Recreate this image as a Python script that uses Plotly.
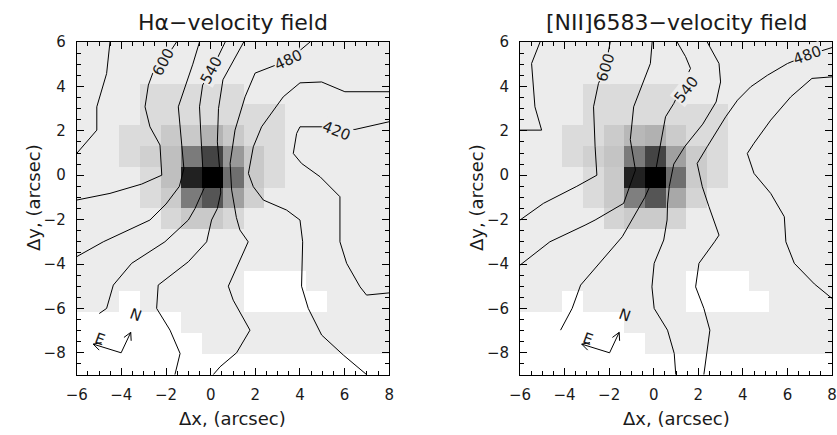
import numpy as np
import plotly.graph_objects as go

# ---- pixel grid of the integral-field frame (arcsec) ----
pix_dx = 0.93
pix_dy = 0.935
x_pix = [round(0.08 + pix_dx * i, 3) for i in range(-7, 10)]   # 17 columns
y_pix = [round(-0.085 + pix_dy * j, 3) for j in range(-9, 8)]  # 17 rows

# relative continuum flux of the bright core, rows from y=+3.7 down to y=-2.0,
# columns from x=-3.6 to x=+2.9 (0 = faint background)
core_ha = [
    [0.00, 0.07, 0.07, 0.07, 0.07, 0.07, 0.00, 0.00],
    [0.00, 0.07, 0.07, 0.07, 0.07, 0.07, 0.07, 0.07],
    [0.07, 0.07, 0.15, 0.15, 0.24, 0.15, 0.07, 0.07],
    [0.07, 0.12, 0.19, 0.48, 0.71, 0.35, 0.15, 0.07],
    [0.00, 0.07, 0.19, 0.86, 1.00, 0.53, 0.15, 0.07],
    [0.00, 0.07, 0.14, 0.48, 0.64, 0.32, 0.12, 0.00],
    [0.00, 0.00, 0.09, 0.15, 0.15, 0.09, 0.00, 0.00],
]
core_nii = [
    [0.00, 0.07, 0.07, 0.07, 0.07, 0.07, 0.00, 0.00],
    [0.00, 0.07, 0.07, 0.07, 0.07, 0.07, 0.07, 0.07],
    [0.07, 0.07, 0.14, 0.22, 0.25, 0.14, 0.07, 0.07],
    [0.07, 0.12, 0.17, 0.48, 0.71, 0.32, 0.14, 0.07],
    [0.00, 0.07, 0.15, 0.86, 1.00, 0.53, 0.14, 0.07],
    [0.00, 0.07, 0.15, 0.46, 0.64, 0.29, 0.10, 0.00],
    [0.00, 0.00, 0.10, 0.14, 0.14, 0.10, 0.00, 0.00],
]
core_row0, core_col0 = 13, 3      # grid indices of the core block's top-left cell

# spaxels without data: (row index, first column, last column)
no_data = [
    (0, 0, 16),
    (1, 0, 6),
    (2, 0, 5),
    (3, 3, 3), (3, 9, 12),
    (4, 9, 11),
]

# ---- isovelocity contours (km/s), traced as x/y in arcsec ----
ha_630_x = [-4.51, -4.66, -5.10, -5.10, -6.00]
ha_630_y = [6.00, 4.58, 3.08, 2.03, 0.98]
ha_600_x = [-1.53, -2.12, -2.57, -2.79, -2.94, -2.72, -2.27, -2.19, -3.09, -4.51, -6.00]
ha_600_y = [6.00, 5.10, 4.66, 4.06, 3.08, 2.18, 1.36, 0.00, -0.40, -0.82, -1.12]
ha_570_x = [-0.50, -0.80, -1.45, -1.30, -1.20, -1.40, -2.00, -2.72, -4.81, -6.00]
ha_570_y = [6.00, 5.00, 3.08, 1.43, 0.30, -0.50, -1.30, -2.02, -3.00, -3.67]
ha_540_x = [0.65, 0.04, -0.36, -0.50, -0.41, -0.33, -0.30, -0.70, -1.00, -2.05, -3.54, -4.36, -4.66, -4.99]
ha_540_y = [6.00, 4.73, 4.06, 3.08, 1.28, 0.23, -0.60, -1.50, -2.02, -3.00, -3.97, -4.95, -6.00, -6.23]
ha_510_x = [1.48, 1.01, 0.55, 0.35, 0.30, 0.40, 0.45, 0.30, 0.04, -0.18, -1.00, -2.35, -2.42, -1.82, -1.37, -1.60]
ha_510_y = [6.00, 5.11, 4.30, 3.00, 1.50, 0.30, -0.80, -1.50, -2.02, -3.00, -3.90, -4.95, -6.00, -6.98, -8.03, -8.98]
ha_480_x = [4.45, 3.48, 1.99, 1.54, 1.09, 0.87, 0.94, 1.15, 1.31, 1.68, 0.79, 1.01, 1.76, 1.16, 0.42, 0.12]
ha_480_y = [6.00, 5.18, 4.60, 3.53, 2.03, 0.53, -0.67, -1.90, -2.47, -3.00, -5.00, -5.63, -6.98, -8.00, -8.63, -8.98]
ha_450_x = [8.00, 6.01, 4.97, 4.00, 3.25, 2.28, 1.91, 1.69, 1.91, 2.36, 3.40, 4.00, 4.12, 4.07, 4.37, 4.97, 5.94, 6.98]
ha_450_y = [3.76, 3.76, 4.20, 4.16, 3.53, 2.18, 1.28, 0.08, -0.52, -1.12, -1.57, -2.02, -3.00, -5.00, -6.00, -7.20, -8.10, -8.98]
ha_420_x = [8.00, 6.46, 4.97, 4.00, 3.85, 3.70, 4.07, 4.90, 5.79, 5.79, 5.79, 6.09, 6.69, 6.98, 8.00]
ha_420_y = [2.41, 2.06, 2.18, 2.18, 1.88, 0.98, 0.53, -0.07, -0.97, -2.47, -3.00, -3.97, -5.03, -5.40, -5.30]

nii_630_x = [-5.10, -5.48, -5.33, -5.03, -6.00]
nii_630_y = [6.00, 5.03, 3.08, 2.03, 2.03]
nii_600_x = [-1.95, -2.18, -2.48, -2.70, -2.63, -2.55, -3.45, -4.95, -6.00]
nii_600_y = [6.00, 4.81, 4.13, 3.08, 1.28, 0.00, -0.50, -1.27, -2.02]
nii_570_x = [-0.07, -0.15, -0.90, -1.05, -0.82, -1.35, -2.63, -3.08, -4.66, -6.00]
nii_570_y = [6.00, 5.03, 3.08, 1.60, 0.23, -1.27, -2.02, -2.25, -3.00, -4.05]
nii_540_x = [1.05, 1.43, 1.65, 0.90, 0.53, 0.25, 0.05, -0.40, -0.96, -1.41, -2.31, -3.28, -3.66, -4.18]
nii_540_y = [6.00, 5.34, 4.81, 3.23, 2.63, 1.00, 0.00, -1.00, -2.02, -2.77, -3.82, -4.95, -6.00, -6.98]
nii_510_x = [2.40, 2.93, 3.00, 2.80, 2.20, 1.40, 0.90, 0.70, 0.62, 0.60, 0.45, 0.02, -0.08, 0.02, 0.62, 0.92, 0.99]
nii_510_y = [6.00, 5.03, 4.20, 3.30, 2.30, 1.30, 0.50, -0.50, -1.30, -2.02, -2.92, -3.97, -5.03, -6.00, -6.98, -8.03, -8.98]
nii_480_x = [8.00, 6.91, 6.00, 5.10, 4.35, 3.76, 3.23, 2.85, 2.40, 1.95, 2.18, 2.48, 2.85, 2.93, 2.73, 2.03, 1.88, 2.25, 2.52, 2.25]
nii_480_y = [5.75, 5.41, 5.03, 4.50, 3.98, 3.38, 2.63, 2.03, 1.28, 0.53, -0.52, -1.42, -2.47, -2.70, -3.00, -3.97, -5.03, -6.00, -6.98, -8.98]
nii_450_x = [8.00, 7.10, 6.15, 5.25, 4.50, 4.20, 4.50, 5.25, 5.86, 5.93, 6.31, 7.21, 8.00]
nii_450_y = [4.43, 4.36, 3.53, 2.48, 1.44, 0.98, 0.08, -0.82, -1.87, -3.00, -3.97, -4.90, -5.55]

ha_contours = [(ha_630_x, ha_630_y), (ha_600_x, ha_600_y), (ha_570_x, ha_570_y),
               (ha_540_x, ha_540_y), (ha_510_x, ha_510_y), (ha_480_x, ha_480_y),
               (ha_450_x, ha_450_y), (ha_420_x, ha_420_y)]
nii_contours = [(nii_630_x, nii_630_y), (nii_600_x, nii_600_y), (nii_570_x, nii_570_y),
                (nii_540_x, nii_540_y), (nii_510_x, nii_510_y), (nii_480_x, nii_480_y),
                (nii_450_x, nii_450_y)]

# contour labels: (text, x, y, angle)
ha_labels = [("600", -2.12, 5.10, -62), ("540", 0.04, 4.73, -62),
             ("480", 3.48, 5.20, -25), ("420", 5.64, 1.98, 22)]
nii_labels = [("600", -2.18, 4.85, -72), ("540", 1.45, 3.85, -52),
              ("480", 6.91, 5.41, -20)]

titles = ["H\u03b1\u2212velocity field", "[NII]6583\u2212velocity field"]


def flux_map(core):
    z = np.zeros((len(y_pix), len(x_pix)))
    for r, row in enumerate(core):
        for c, v in enumerate(row):
            z[core_row0 - r, core_col0 + c] = v
    for r, c0, c1 in no_data:
        z[r, c0:c1 + 1] = np.nan
    return z


FONT = "DejaVu Sans"
INK = "#1a1a1a"
fig = go.Figure()

panels = [("x", "y", core_ha, ha_contours, ha_labels, -4.01),
          ("x2", "y2", core_nii, nii_contours, nii_labels, -1.98)]

for xa, ya, core, contours, labels, compass_x in panels:
    fig.add_trace(go.Heatmap(
        x=x_pix, y=y_pix, z=flux_map(core), xaxis=xa, yaxis=ya,
        zmin=0, zmax=1, colorscale=[[0, "#ececec"], [1, "#000000"]],
        showscale=False, hoverongaps=False))
    for cx, cy in contours:
        fig.add_trace(go.Scatter(x=cx, y=cy, mode="lines", xaxis=xa, yaxis=ya,
                                 line=dict(color="black", width=1), showlegend=False,
                                 hoverinfo="skip"))
    for txt, lx, ly, ang in labels:
        fig.add_annotation(x=lx, y=ly, xref=xa, yref=ya, text=txt, showarrow=False,
                           textangle=ang, bgcolor="#ececec", borderpad=0,
                           xanchor="center", yanchor="middle",
                           font=dict(family=FONT, size=15, color=INK))

    # orientation compass (N and E arrows)
    ox, oy = compass_x, -8.0
    arms = [((0.43, 0.92), "N", (0.66, 1.70)), ((-1.25, 0.39), "E", (-0.98, 0.60))]
    for (dx, dy), name, (tx, ty) in arms:
        L = np.hypot(dx, dy)
        ux, uy = dx / L, dy / L
        hx, hy = ox + dx, oy + dy
        xs, ys = [ox, hx], [oy, hy]
        for s in (1, -1):
            a = np.deg2rad(28) * s
            bx = -ux * np.cos(a) + uy * np.sin(a)
            by = -uy * np.cos(a) - ux * np.sin(a)
            xs += [None, hx, hx + 0.38 * bx]
            ys += [None, hy, hy + 0.38 * by]
        fig.add_trace(go.Scatter(x=xs, y=ys, mode="lines", xaxis=xa, yaxis=ya,
                                 line=dict(color="black", width=1), showlegend=False,
                                 hoverinfo="skip"))
        fig.add_annotation(x=ox + tx, y=oy + ty, xref=xa, yref=ya, text=name,
                           showarrow=False, textangle=20,
                           xanchor="center", yanchor="middle",
                           font=dict(family=FONT, size=15, color=INK))

axis_common = dict(showline=True, linecolor="black", linewidth=1, mirror="ticks",
                   ticks="inside", ticklen=7, tickcolor="black", showgrid=False,
                   zeroline=False, automargin=False,
                   tickfont=dict(family=FONT, size=15, color=INK),
                   minor=dict(ticks="inside", ticklen=4, dtick=0.5, tickcolor="black",
                              showgrid=False))

ydom = [60 / 435, 393 / 435]
fig.update_layout(
    width=837, height=435, margin=dict(l=0, r=0, t=0, b=0, autoexpand=False),
    paper_bgcolor="white", plot_bgcolor="white", showlegend=False,
    xaxis=dict(domain=[76.7 / 837, 389.3 / 837], range=[-6, 8], dtick=2, tick0=0,
               anchor="y", ticklabelstandoff=6, **axis_common),
    yaxis=dict(domain=ydom, range=[-9, 6], dtick=2, tick0=0, anchor="x",
               ticklabelstandoff=7, **axis_common),
    xaxis2=dict(domain=[520 / 837, 832 / 837], range=[-6, 8], dtick=2, tick0=0,
                anchor="y2", ticklabelstandoff=6, **axis_common),
    yaxis2=dict(domain=ydom, range=[-9, 6], dtick=2, tick0=0, anchor="x2",
                ticklabelstandoff=7, **axis_common),
)

# panel titles and axis titles
for cx, title in zip([233 / 837, 676 / 837], titles):
    fig.add_annotation(x=cx, y=1 - 22 / 435, xref="paper", yref="paper", text=title,
                       showarrow=False, xanchor="center", yanchor="middle",
                       font=dict(family=FONT, size=22, color=INK))
    fig.add_annotation(x=cx, y=1 - 418 / 435, xref="paper", yref="paper",
                       text="\u0394x, (arcsec)", showarrow=False,
                       xanchor="center", yanchor="middle",
                       font=dict(family=FONT, size=18, color=INK))
for px in [33, 476]:
    fig.add_annotation(x=px / 837, y=1 - 198 / 435, xref="paper", yref="paper",
                       text="\u0394y, (arcsec)", showarrow=False, textangle=-90,
                       xanchor="center", yanchor="middle",
                       font=dict(family=FONT, size=18, color=INK))

fig.write_html("out.html")
